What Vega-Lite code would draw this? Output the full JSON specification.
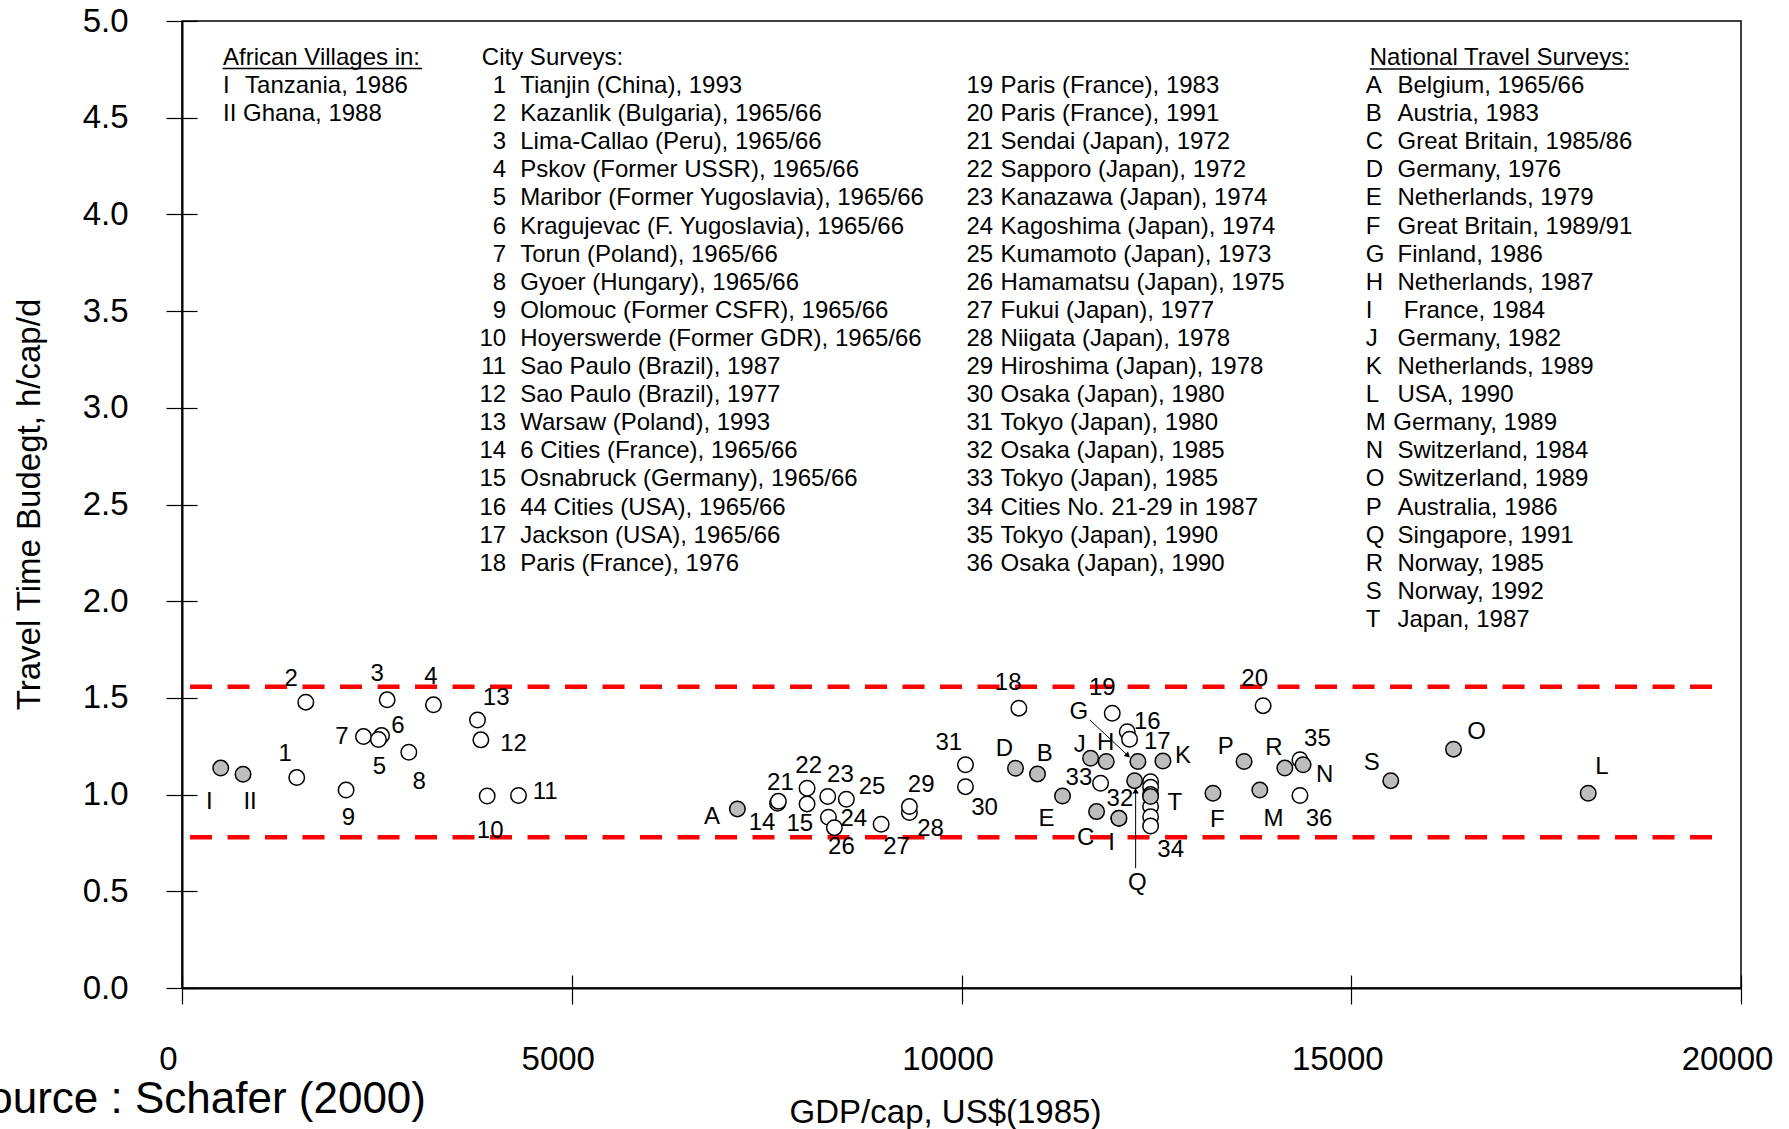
{
  "$schema": "https://vega.github.io/schema/vega-lite/v6.json",
  "width": 1559,
  "height": 967,
  "autosize": {"type": "none"},
  "padding": {"left": 182, "top": 21, "right": 48, "bottom": 141},
  "background": "white",
  "config": {"font": "Liberation Sans", "view": {"stroke": "black", "strokeWidth": 1.5}},
  "datasets": {
    "pts": [
      {"id":"1","gdp":1472,"ttb":1.088,"kind":"city"},
      {"id":"2","gdp":1588,"ttb":1.478,"kind":"city"},
      {"id":"3","gdp":2632,"ttb":1.49,"kind":"city"},
      {"id":"4","gdp":3226,"ttb":1.464,"kind":"city"},
      {"id":"7","gdp":2328,"ttb":1.30,"kind":"city"},
      {"id":"6","gdp":2560,"ttb":1.305,"kind":"city"},
      {"id":"5","gdp":2520,"ttb":1.285,"kind":"city"},
      {"id":"8","gdp":2910,"ttb":1.219,"kind":"city"},
      {"id":"9","gdp":2105,"ttb":1.024,"kind":"city"},
      {"id":"10","gdp":3915,"ttb":0.993,"kind":"city"},
      {"id":"11","gdp":4317,"ttb":0.995,"kind":"city"},
      {"id":"12","gdp":3834,"ttb":1.283,"kind":"city"},
      {"id":"13","gdp":3791,"ttb":1.386,"kind":"city"},
      {"id":"14","gdp":7640,"ttb":0.955,"kind":"city"},
      {"id":"21","gdp":7651,"ttb":0.965,"kind":"city"},
      {"id":"15","gdp":8019,"ttb":0.952,"kind":"city"},
      {"id":"22","gdp":8019,"ttb":1.033,"kind":"city"},
      {"id":"23","gdp":8284,"ttb":0.99,"kind":"city"},
      {"id":"24","gdp":8293,"ttb":0.883,"kind":"city"},
      {"id":"25","gdp":8523,"ttb":0.976,"kind":"city"},
      {"id":"26","gdp":8369,"ttb":0.829,"kind":"city"},
      {"id":"27","gdp":8969,"ttb":0.847,"kind":"city"},
      {"id":"28","gdp":9332,"ttb":0.907,"kind":"city"},
      {"id":"29","gdp":9332,"ttb":0.938,"kind":"city"},
      {"id":"30","gdp":10051,"ttb":1.041,"kind":"city"},
      {"id":"31","gdp":10051,"ttb":1.154,"kind":"city"},
      {"id":"18","gdp":10736,"ttb":1.447,"kind":"city"},
      {"id":"19","gdp":11934,"ttb":1.421,"kind":"city"},
      {"id":"16","gdp":12126,"ttb":1.325,"kind":"city"},
      {"id":"17","gdp":12156,"ttb":1.286,"kind":"city"},
      {"id":"20","gdp":13869,"ttb":1.46,"kind":"city"},
      {"id":"32","gdp":12019,"ttb":0.878,"kind":"city"},
      {"id":"33","gdp":11784,"ttb":1.059,"kind":"city"},
      {"id":"34","gdp":12426,"ttb":1.067,"kind":"city"},
      {"id":"34","gdp":12426,"ttb":1.038,"kind":"city"},
      {"id":"34","gdp":12426,"ttb":1.0,"kind":"city"},
      {"id":"34","gdp":12426,"ttb":0.938,"kind":"city"},
      {"id":"34","gdp":12426,"ttb":0.886,"kind":"city"},
      {"id":"34","gdp":12426,"ttb":0.838,"kind":"city"},
      {"id":"35","gdp":14342,"ttb":1.18,"kind":"city"},
      {"id":"36","gdp":14342,"ttb":0.995,"kind":"city"},
      {"id":"A","gdp":7125,"ttb":0.926,"kind":"national"},
      {"id":"D","gdp":10693,"ttb":1.136,"kind":"national"},
      {"id":"B","gdp":10975,"ttb":1.107,"kind":"national"},
      {"id":"E","gdp":11296,"ttb":0.993,"kind":"national"},
      {"id":"C","gdp":11733,"ttb":0.912,"kind":"national"},
      {"id":"I","gdp":12019,"ttb":0.878,"kind":"national"},
      {"id":"J","gdp":11656,"ttb":1.188,"kind":"national"},
      {"id":"H","gdp":11857,"ttb":1.171,"kind":"national"},
      {"id":"G","gdp":12263,"ttb":1.171,"kind":"national"},
      {"id":"K","gdp":12584,"ttb":1.174,"kind":"national"},
      {"id":"Q","gdp":12221,"ttb":1.072,"kind":"national"},
      {"id":"T","gdp":12426,"ttb":0.99,"kind":"national"},
      {"id":"F","gdp":13226,"ttb":1.007,"kind":"national"},
      {"id":"P","gdp":13625,"ttb":1.171,"kind":"national"},
      {"id":"M","gdp":13827,"ttb":1.024,"kind":"national"},
      {"id":"R","gdp":14148,"ttb":1.137,"kind":"national"},
      {"id":"N","gdp":14382,"ttb":1.154,"kind":"national"},
      {"id":"S","gdp":15507,"ttb":1.072,"kind":"national"},
      {"id":"O","gdp":16312,"ttb":1.235,"kind":"national"},
      {"id":"L","gdp":18040,"ttb":1.007,"kind":"national"},
      {"id":"Africa I","gdp":497,"ttb":1.137,"kind":"national"},
      {"id":"Africa II","gdp":783,"ttb":1.105,"kind":"national"}
    ],
    "lbl": [
      {"t":"2","gdp":1399,"ttb":1.596},{"t":"3","gdp":2503,"ttb":1.624},{"t":"4","gdp":3192,"ttb":1.607},
      {"t":"13","gdp":4031,"ttb":1.498},{"t":"7","gdp":2050,"ttb":1.296},{"t":"6","gdp":2769,"ttb":1.355},
      {"t":"5","gdp":2533,"ttb":1.141},{"t":"8","gdp":3042,"ttb":1.067},{"t":"1","gdp":1322,"ttb":1.210},
      {"t":"12","gdp":4253,"ttb":1.260},{"t":"11","gdp":4660,"ttb":1.012},{"t":"10","gdp":3954,"ttb":0.813},
      {"t":"9","gdp":2135,"ttb":0.877},{"t":"I","gdp":351,"ttb":0.963},{"t":"II","gdp":873,"ttb":0.963},
      {"t":"A","gdp":6800,"ttb":0.886},{"t":"14","gdp":7441,"ttb":0.855},{"t":"15","gdp":7925,"ttb":0.848},
      {"t":"21","gdp":7677,"ttb":1.062},{"t":"22","gdp":8040,"ttb":1.148},{"t":"23","gdp":8447,"ttb":1.101},
      {"t":"25","gdp":8853,"ttb":1.041},{"t":"24","gdp":8618,"ttb":0.872},{"t":"26","gdp":8460,"ttb":0.728},
      {"t":"27","gdp":9166,"ttb":0.731},{"t":"29","gdp":9482,"ttb":1.050},{"t":"28","gdp":9602,"ttb":0.821},
      {"t":"31","gdp":9837,"ttb":1.265},{"t":"30","gdp":10295,"ttb":0.929},{"t":"18","gdp":10599,"ttb":1.575},
      {"t":"19","gdp":11806,"ttb":1.550},{"t":"G","gdp":11506,"ttb":1.429},{"t":"16","gdp":12384,"ttb":1.377},
      {"t":"17","gdp":12512,"ttb":1.274},{"t":"D","gdp":10552,"ttb":1.234},{"t":"B","gdp":11069,"ttb":1.210},
      {"t":"J","gdp":11518,"ttb":1.256},{"t":"H","gdp":11849,"ttb":1.265},{"t":"K","gdp":12841,"ttb":1.200},
      {"t":"33","gdp":11506,"ttb":1.084},{"t":"32","gdp":12032,"ttb":0.976},{"t":"E","gdp":11091,"ttb":0.872},
      {"t":"C","gdp":11592,"ttb":0.774},{"t":"I","gdp":11926,"ttb":0.751},{"t":"Q","gdp":12255,"ttb":0.541},
      {"t":"T","gdp":12738,"ttb":0.958},{"t":"34","gdp":12683,"ttb":0.714},{"t":"F","gdp":13282,"ttb":0.869},
      {"t":"P","gdp":13389,"ttb":1.248},{"t":"M","gdp":14001,"ttb":0.872},{"t":"R","gdp":14009,"ttb":1.239},
      {"t":"35","gdp":14566,"ttb":1.286},{"t":"N","gdp":14660,"ttb":1.101},{"t":"36","gdp":14587,"ttb":0.872},
      {"t":"20","gdp":13761,"ttb":1.596},{"t":"S","gdp":15263,"ttb":1.165},{"t":"O","gdp":16607,"ttb":1.325},
      {"t":"L","gdp":18215,"ttb":1.144}
    ],
    "band": [
      {"gdp":103,"gdp2":19807,"ttb":1.558},
      {"gdp":103,"gdp2":19807,"ttb":0.779}
    ],
    "arrows": [
      {"gdp":11646,"ttb":1.386,"gdp2":12126,"ttb2":1.205},
      {"gdp":12234,"ttb":0.619,"gdp2":12234,"ttb2":1.015}
    ],
    "under": [
      {"gdp":520,"gdp2":3081,"ttb":4.754},
      {"gdp":15237,"gdp2":18562,"ttb":4.752}
    ],
    "notesL": [
      {"t":"African Villages in:","gdp":526,"ttb":4.7725},
      {"t":"I","gdp":526,"ttb":4.6272},
      {"t":"Tanzania, 1986","gdp":809,"ttb":4.6272},
      {"t":"II Ghana, 1988","gdp":526,"ttb":4.4819},
      {"t":"City Surveys:","gdp":3847,"ttb":4.7725},
      {"t":"Tianjin (China), 1993","gdp":4339,"ttb":4.6272},
      {"t":"Kazanlik (Bulgaria), 1965/66","gdp":4339,"ttb":4.4819},
      {"t":"Lima-Callao (Peru), 1965/66","gdp":4339,"ttb":4.3366},
      {"t":"Pskov (Former USSR), 1965/66","gdp":4339,"ttb":4.1913},
      {"t":"Maribor (Former Yugoslavia), 1965/66","gdp":4339,"ttb":4.0461},
      {"t":"Kragujevac (F. Yugoslavia), 1965/66","gdp":4339,"ttb":3.9008},
      {"t":"Torun (Poland), 1965/66","gdp":4339,"ttb":3.7555},
      {"t":"Gyoer (Hungary), 1965/66","gdp":4339,"ttb":3.6102},
      {"t":"Olomouc (Former CSFR), 1965/66","gdp":4339,"ttb":3.4649},
      {"t":"Hoyerswerde (Former GDR), 1965/66","gdp":4339,"ttb":3.3196},
      {"t":"Sao Paulo (Brazil), 1987","gdp":4339,"ttb":3.1743},
      {"t":"Sao Paulo (Brazil), 1977","gdp":4339,"ttb":3.0290},
      {"t":"Warsaw (Poland), 1993","gdp":4339,"ttb":2.8837},
      {"t":"6 Cities (France), 1965/66","gdp":4339,"ttb":2.7384},
      {"t":"Osnabruck (Germany), 1965/66","gdp":4339,"ttb":2.5931},
      {"t":"44 Cities (USA), 1965/66","gdp":4339,"ttb":2.4478},
      {"t":"Jackson (USA), 1965/66","gdp":4339,"ttb":2.3025},
      {"t":"Paris (France), 1976","gdp":4339,"ttb":2.1573},
      {"t":"Paris (France), 1983","gdp":10501,"ttb":4.6272},
      {"t":"Paris (France), 1991","gdp":10501,"ttb":4.4819},
      {"t":"Sendai (Japan), 1972","gdp":10501,"ttb":4.3366},
      {"t":"Sapporo (Japan), 1972","gdp":10501,"ttb":4.1913},
      {"t":"Kanazawa (Japan), 1974","gdp":10501,"ttb":4.0461},
      {"t":"Kagoshima (Japan), 1974","gdp":10501,"ttb":3.9008},
      {"t":"Kumamoto (Japan), 1973","gdp":10501,"ttb":3.7555},
      {"t":"Hamamatsu (Japan), 1975","gdp":10501,"ttb":3.6102},
      {"t":"Fukui (Japan), 1977","gdp":10501,"ttb":3.4649},
      {"t":"Niigata (Japan), 1978","gdp":10501,"ttb":3.3196},
      {"t":"Hiroshima (Japan), 1978","gdp":10501,"ttb":3.1743},
      {"t":"Osaka (Japan), 1980","gdp":10501,"ttb":3.0290},
      {"t":"Tokyo (Japan), 1980","gdp":10501,"ttb":2.8837},
      {"t":"Osaka (Japan), 1985","gdp":10501,"ttb":2.7384},
      {"t":"Tokyo (Japan), 1985","gdp":10501,"ttb":2.5931},
      {"t":"Cities No. 21-29 in 1987","gdp":10501,"ttb":2.4478},
      {"t":"Tokyo (Japan), 1990","gdp":10501,"ttb":2.3025},
      {"t":"Osaka (Japan), 1990","gdp":10501,"ttb":2.1573},
      {"t":"National Travel Surveys:","gdp":15237,"ttb":4.7725},
      {"t":"A","gdp":15186,"ttb":4.6272},{"t":"Belgium, 1965/66","gdp":15593,"ttb":4.6272},
      {"t":"B","gdp":15186,"ttb":4.4819},{"t":"Austria, 1983","gdp":15593,"ttb":4.4819},
      {"t":"C","gdp":15186,"ttb":4.3366},{"t":"Great Britain, 1985/86","gdp":15593,"ttb":4.3366},
      {"t":"D","gdp":15186,"ttb":4.1913},{"t":"Germany, 1976","gdp":15593,"ttb":4.1913},
      {"t":"E","gdp":15186,"ttb":4.0461},{"t":"Netherlands, 1979","gdp":15593,"ttb":4.0461},
      {"t":"F","gdp":15186,"ttb":3.9008},{"t":"Great Britain, 1989/91","gdp":15593,"ttb":3.9008},
      {"t":"G","gdp":15186,"ttb":3.7555},{"t":"Finland, 1986","gdp":15593,"ttb":3.7555},
      {"t":"H","gdp":15186,"ttb":3.6102},{"t":"Netherlands, 1987","gdp":15593,"ttb":3.6102},
      {"t":"I","gdp":15186,"ttb":3.4649},{"t":"France, 1984","gdp":15674,"ttb":3.4649},
      {"t":"J","gdp":15186,"ttb":3.3196},{"t":"Germany, 1982","gdp":15593,"ttb":3.3196},
      {"t":"K","gdp":15186,"ttb":3.1743},{"t":"Netherlands, 1989","gdp":15593,"ttb":3.1743},
      {"t":"L","gdp":15186,"ttb":3.0290},{"t":"USA, 1990","gdp":15593,"ttb":3.0290},
      {"t":"M","gdp":15186,"ttb":2.8837},{"t":"Germany, 1989","gdp":15540,"ttb":2.8837},
      {"t":"N","gdp":15186,"ttb":2.7384},{"t":"Switzerland, 1984","gdp":15593,"ttb":2.7384},
      {"t":"O","gdp":15186,"ttb":2.5931},{"t":"Switzerland, 1989","gdp":15593,"ttb":2.5931},
      {"t":"P","gdp":15186,"ttb":2.4478},{"t":"Australia, 1986","gdp":15593,"ttb":2.4478},
      {"t":"Q","gdp":15186,"ttb":2.3025},{"t":"Singapore, 1991","gdp":15593,"ttb":2.3025},
      {"t":"R","gdp":15186,"ttb":2.1573},{"t":"Norway, 1985","gdp":15593,"ttb":2.1573},
      {"t":"S","gdp":15186,"ttb":2.0120},{"t":"Norway, 1992","gdp":15593,"ttb":2.0120},
      {"t":"T","gdp":15186,"ttb":1.8667},{"t":"Japan, 1987","gdp":15593,"ttb":1.8667}
    ],
    "notesR": [
      {"t":"1","gdp":4159,"ttb":4.6272},{"t":"2","gdp":4159,"ttb":4.4819},{"t":"3","gdp":4159,"ttb":4.3366},
      {"t":"4","gdp":4159,"ttb":4.1913},{"t":"5","gdp":4159,"ttb":4.0461},{"t":"6","gdp":4159,"ttb":3.9008},
      {"t":"7","gdp":4159,"ttb":3.7555},{"t":"8","gdp":4159,"ttb":3.6102},{"t":"9","gdp":4159,"ttb":3.4649},
      {"t":"10","gdp":4159,"ttb":3.3196},{"t":"11","gdp":4159,"ttb":3.1743},{"t":"12","gdp":4159,"ttb":3.0290},
      {"t":"13","gdp":4159,"ttb":2.8837},{"t":"14","gdp":4159,"ttb":2.7384},{"t":"15","gdp":4159,"ttb":2.5931},
      {"t":"16","gdp":4159,"ttb":2.4478},{"t":"17","gdp":4159,"ttb":2.3025},{"t":"18","gdp":4159,"ttb":2.1573},
      {"t":"19","gdp":10407,"ttb":4.6272},{"t":"20","gdp":10407,"ttb":4.4819},{"t":"21","gdp":10407,"ttb":4.3366},
      {"t":"22","gdp":10407,"ttb":4.1913},{"t":"23","gdp":10407,"ttb":4.0461},{"t":"24","gdp":10407,"ttb":3.9008},
      {"t":"25","gdp":10407,"ttb":3.7555},{"t":"26","gdp":10407,"ttb":3.6102},{"t":"27","gdp":10407,"ttb":3.4649},
      {"t":"28","gdp":10407,"ttb":3.3196},{"t":"29","gdp":10407,"ttb":3.1743},{"t":"30","gdp":10407,"ttb":3.0290},
      {"t":"31","gdp":10407,"ttb":2.8837},{"t":"32","gdp":10407,"ttb":2.7384},{"t":"33","gdp":10407,"ttb":2.5931},
      {"t":"34","gdp":10407,"ttb":2.4478},{"t":"35","gdp":10407,"ttb":2.3025},{"t":"36","gdp":10407,"ttb":2.1573}
    ],
    "src": [{"t":"Source : Schafer (2000)","gdp":3130,"ttb":-0.58}]
  },
  "encoding": {
    "x": {"field":"gdp","type":"quantitative","scale":{"domain":[0,20000],"nice":false,"zero":false},"axis":null},
    "y": {"field":"ttb","type":"quantitative","scale":{"domain":[0,5],"nice":false,"zero":false},"axis":null}
  },
  "layer": [
    {
      "data": {"name":"band"},
      "mark": {"type":"rule","color":"#ff0000","strokeWidth":4.5,"strokeDash":[22,15.5]},
      "encoding": {
        "x": {"field":"gdp","type":"quantitative","scale":{"domain":[0,20000],"nice":false,"zero":false},
              "axis":{"orient":"bottom","values":[0,5000,10000,15000,20000],"domain":false,"labels":false,"grid":false,"tickSize":-13,"tickColor":"black","tickWidth":1.2,"title":null}},
        "x2": {"field":"gdp2"},
        "y": {"field":"ttb","type":"quantitative","scale":{"domain":[0,5],"nice":false,"zero":false},
              "axis":{"orient":"left","values":[0,0.5,1,1.5,2,2.5,3,3.5,4,4.5,5],"domain":false,"labels":false,"grid":false,"tickSize":-15,"tickColor":"black","tickWidth":1.2,"title":null}}
      }
    },
    {
      "data": {"name":"arrows"},
      "mark": {"type":"rule","color":"black","strokeWidth":1},
      "encoding": {"x2":{"field":"gdp2"},"y2":{"field":"ttb2"}}
    },
    {
      "data": {"values":[{"gdp":12126,"ttb":1.205}]},
      "mark": {"type":"point","shape":"triangle","filled":true,"color":"black","size":40,"angle":133,"opacity":1},
      "encoding": {}
    },
    {
      "data": {"values":[{"gdp":12234,"ttb":1.015}]},
      "mark": {"type":"point","shape":"triangle","filled":true,"color":"black","size":40,"angle":0,"opacity":1},
      "encoding": {}
    },
    {
      "data": {"name":"pts"},
      "mark": {"type":"circle","stroke":"black","strokeWidth":1.5,"size":240,"opacity":1},
      "encoding": {
        "x": {"field":"gdp","type":"quantitative","scale":{"domain":[0,20000],"nice":false,"zero":false},
              "axis":{"orient":"bottom","values":[0,5000,10000,15000,20000],"format":"d","grid":false,"domainColor":"black","domainWidth":2,"tickColor":"black","tickWidth":1.2,"tickSize":16,
                      "labelFontSize":33,"labelColor":"black","labelPadding":39,"labelOffset":-14,"labelFlush":false,"labelOverlap":false,
                      "title":"GDP/cap, US$(1985)","titleFontSize":33,"titleFontWeight":"normal","titleColor":"black","titleX":763,"titleY":124,"titleAlign":"center","titleBaseline":"middle"}},
        "y": {"field":"ttb","type":"quantitative","scale":{"domain":[0,5],"nice":false,"zero":false},
              "axis":{"orient":"left","values":[0,0.5,1,1.5,2,2.5,3,3.5,4,4.5,5],"format":".1f","grid":false,"domainColor":"black","domainWidth":2,"tickColor":"black","tickWidth":1.2,"tickSize":16,
                      "labelFontSize":33,"labelColor":"black","labelPadding":38,"labelFlush":false,"labelOverlap":false,
                      "title":"Travel Time Budegt, h/cap/d","titleFontSize":33,"titleFontWeight":"normal","titleColor":"black","titleX":-153,"titleY":483,"titleAngle":-90,"titleAlign":"center","titleBaseline":"middle"}},
        "fill": {"field":"kind","type":"nominal","scale":{"domain":["city","national"],"range":["#ffffff","#bdbdbd"]},"legend":null}
      }
    },
    {
      "data": {"name":"lbl"},
      "mark": {"type":"text","fontSize":24,"color":"black","align":"center","baseline":"middle"},
      "encoding": {"text":{"field":"t"}}
    },
    {
      "data": {"name":"notesL"},
      "mark": {"type":"text","fontSize":24,"color":"black","align":"left","baseline":"alphabetic"},
      "encoding": {"text":{"field":"t"}}
    },
    {
      "data": {"name":"notesR"},
      "mark": {"type":"text","fontSize":24,"color":"black","align":"right","baseline":"alphabetic"},
      "encoding": {"text":{"field":"t"}}
    },
    {
      "data": {"name":"under"},
      "mark": {"type":"rule","color":"black","strokeWidth":1.5},
      "encoding": {"x2":{"field":"gdp2"}}
    },
    {
      "data": {"name":"src"},
      "mark": {"type":"text","fontSize":44,"color":"black","align":"right","baseline":"middle"},
      "encoding": {"text":{"field":"t"}}
    }
  ],
  "resolve": {"axis": {"x":"independent","y":"independent"}}
}
